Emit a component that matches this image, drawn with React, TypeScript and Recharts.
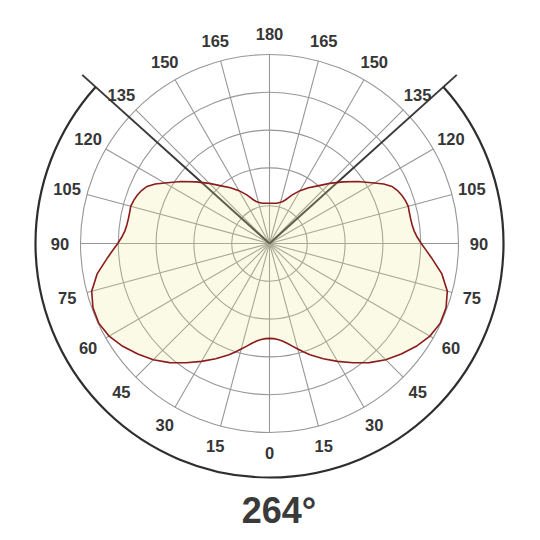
import React from 'react';
import {
    RadarChart, Radar, PolarGrid, PolarAngleAxis, PolarRadiusAxis, Customized,
} from 'recharts';

// half profile, degrees from nadir (0 = straight down, 180 = straight up)
const DEGREES = [
    0, 2.5, 5, 7.5, 10, 12.5, 15, 17.5, 20, 25, 30, 35, 40, 45, 50, 55, 60, 65, 70, 75, 80,
    85, 87.5, 90, 92.5, 95, 97.5, 100, 102.5, 105, 107.5, 110, 112.5, 115, 117.5, 120, 125,
    130, 135, 140, 145, 150, 155, 157.5, 160, 162.5, 165, 170, 175, 180,
];
const INTENSITY = [
    50.2, 50.4, 51, 52, 53.6, 55.6, 57.8, 60.2, 62.6, 67.3, 72, 77, 82.3, 87, 91, 94.8, 98, 99.7, 99.4, 97.4, 92.6,
    86, 83, 80.3, 78.2, 76.8, 76.1, 75.8, 75.8, 76, 75.4, 74.5, 73.3, 71.5, 68.2, 64, 57.2,
    50.7, 45, 39.8, 36, 32.3, 28.4, 26.3, 24.5, 23.3, 22.6, 21.6, 21.4, 21.3,
];
const RADIUS_TICKS = [0, 20, 40, 60, 80, 100];
const ANGLE_TICKS = [
    0, 15, 30, 45, 60, 75, 90, 105, 120, 135, 150, 165,
    180, 195, 210, 225, 240, 255, 270, 285, 300, 315, 330, 345,
];
const BEAM_ANGLE = 264;

// the curve is symmetric, so mirror the half profile round the full circle
const data = [
    ...DEGREES.map((deg, i) => ({ deg, value: INTENSITY[i] })),
    ...DEGREES.slice(1, -1).reverse().map((deg) => ({
        deg: 360 - deg,
        value: INTENSITY[DEGREES.indexOf(deg)],
    })),
];

const CX = 269.5;
const CY = 243.5;
const OUTER = 189;
const FONT = '"Liberation Sans", Arial, Helvetica, sans-serif';
const INK = '#363636';

function AngleTick({ x, y, payload }: any) {
    const deg = Number(payload.value);
    const label = deg <= 180 ? deg : 360 - deg;
    return (
        <text
            x={x}
            y={y}
            textAnchor="middle"
            dominantBaseline="central"
            fontFamily={FONT}
            fontWeight={700}
            fontSize={16.5}
            fill={INK}
        >
            {label}
        </text>
    );
}

function BeamMarks() {
    const half = BEAM_ANGLE / 2;
    const rad = Math.PI / 180;
    const pt = (r: number, fromNadir: number) => {
        const a = (-90 + fromNadir) * rad;
        return { x: CX + r * Math.cos(a), y: CY - r * Math.sin(a) };
    };
    const lineR = 252;
    const arcR = 234;
    const l = pt(lineR, -half);
    const r = pt(lineR, half);
    const a0 = pt(arcR, -half);
    const a1 = pt(arcR, half);
    return (
        <g>
            <line x1={CX} y1={CY} x2={l.x} y2={l.y} stroke="#3a3a3a" strokeWidth={2} />
            <line x1={CX} y1={CY} x2={r.x} y2={r.y} stroke="#3a3a3a" strokeWidth={2} />
            <path
                d={`M ${a0.x} ${a0.y} A ${arcR} ${arcR} 0 1 0 ${a1.x} ${a1.y}`}
                fill="none"
                stroke="#2e2e2e"
                strokeWidth={2.2}
            />
            <text
                x={279}
                y={523}
                textAnchor="middle"
                fontFamily={FONT}
                fontWeight={700}
                fontSize={36}
                fill="#3a3a3a"
            >
                {BEAM_ANGLE}°
            </text>
        </g>
    );
}

export default function App() {
    return (
        <div style={{ position: 'absolute', left: 0, top: 0, width: 540, height: 540, background: '#fff' }}>
            <RadarChart
                width={540}
                height={540}
                data={data}
                cx={CX}
                cy={CY}
                outerRadius={OUTER}
                startAngle={-90}
                endAngle={270}
                margin={{ top: 0, right: 0, bottom: 0, left: 0 }}
            >
                <PolarGrid gridType="circle" stroke="#979797" strokeWidth={1.1} />
                <PolarRadiusAxis
                    domain={[0, 100]}
                    ticks={RADIUS_TICKS as any}
                    tickCount={RADIUS_TICKS.length}
                    tick={false}
                    axisLine={false}
                />
                <PolarAngleAxis
                    dataKey="deg"
                    type="number"
                    domain={[0, 360]}
                    ticks={ANGLE_TICKS as any}
                    tick={<AngleTick />}
                    tickLine={false}
                    axisLine={false}
                    tickSize={20.5}
                />
                <Radar
                    dataKey="value"
                    stroke="#8a1c1c"
                    strokeWidth={1.6}
                    fill="#e8e88c"
                    fillOpacity={0.22}
                    dot={false}
                    isAnimationActive={false}
                />
                <Customized component={BeamMarks} />
            </RadarChart>
        </div>
    );
}
